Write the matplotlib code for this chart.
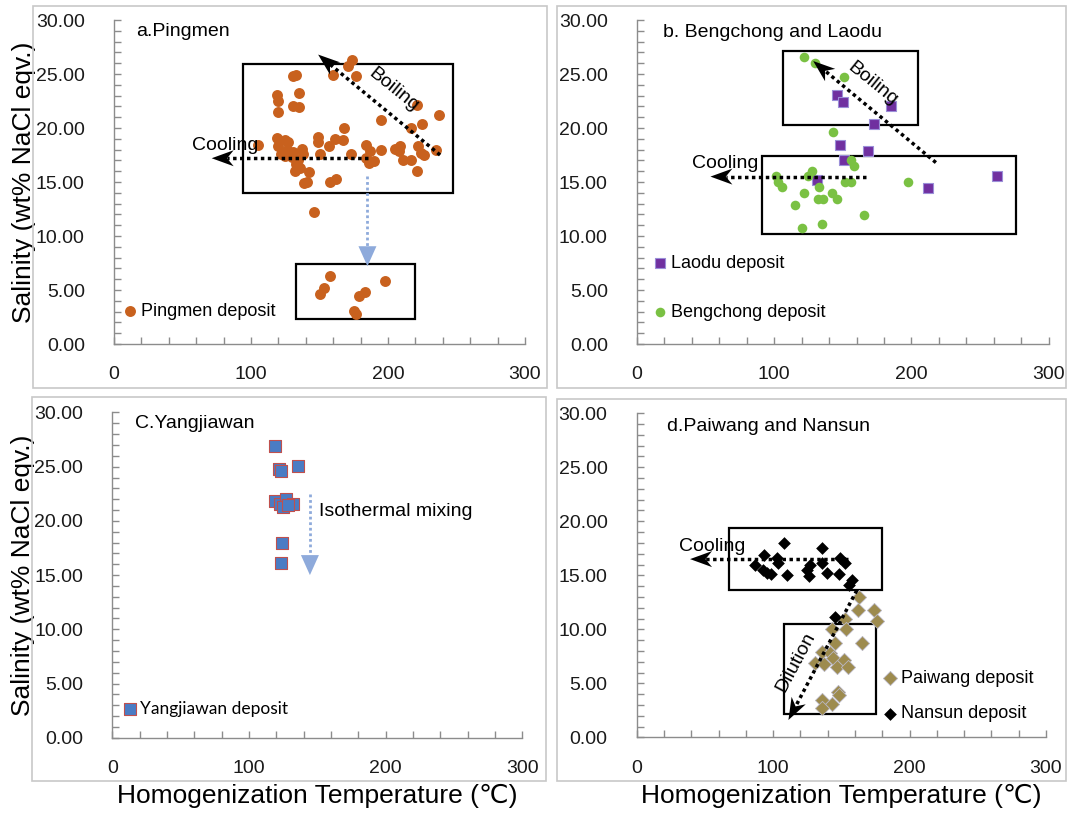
"""Fluid inclusion salinity vs homogenization temperature, four deposits."""

import numpy as np
import matplotlib

matplotlib.use("Agg")
import matplotlib.pyplot as plt
from matplotlib.patches import Rectangle, Polygon

plt.rcParams["font.family"] = ["Liberation Sans", "DejaVu Sans"]

# ---- data (Th in degC, salinity in wt% NaCl eqv.) ----
pingmen_t = [174, 171, 177, 160, 131, 133, 119, 120, 135, 131, 135, 120,
             221, 237, 195, 225, 217, 168, 105, 119, 125, 127, 149, 149,
             157, 161, 167, 120, 126, 131, 137.5, 122, 138, 134.5, 130, 125,
             150, 173, 184, 187, 184, 190, 186, 195, 205, 209, 208, 222,
             224, 226, 235, 211, 217, 221, 133, 136, 132, 142, 139, 141,
             158, 162, 146, 158, 153, 150, 198, 183, 179, 175, 177]
pingmen_s = [26.3, 25.7, 24.8, 24.9, 24.8, 24.9, 23.1, 22.5, 23.2, 22.0, 21.9, 21.5,
             22.1, 21.2, 20.7, 20.4, 20.0, 20.0, 18.4, 19.1, 18.9, 18.7, 19.2, 18.7,
             18.3, 19.0, 18.9, 18.3, 18.0, 17.8, 18.1, 17.6, 17.6, 17.0, 17.3, 17.4,
             17.6, 17.6, 18.4, 17.9, 17.2, 16.9, 16.8, 18.0, 18.1, 18.3, 17.9, 18.3,
             17.7, 17.5, 18.0, 17.0, 17.0, 16.0, 16.7, 16.3, 16.0, 15.9, 14.9, 15.0,
             15.0, 15.3, 12.2, 6.3, 5.2, 4.6, 5.8, 4.8, 4.4, 3.1, 2.8]

bengchong_t = [121.8, 129.8, 150.7, 143, 155.6, 158, 101.6, 102.8, 105.3, 127.6,
               124.7, 132.7, 121.8, 115, 132, 135.7, 142, 145.9, 151.5, 155.8,
               197.7, 165.6, 135, 119.9]
bengchong_s = [26.6, 26.0, 24.7, 19.6, 17.0, 16.5, 15.6, 15.0, 14.5, 16.0,
               15.6, 14.5, 14.0, 12.9, 13.4, 13.4, 14.0, 13.4, 15.0, 15.0,
               15.0, 11.9, 11.1, 10.7]

laodu_t = [145.4, 149.8, 185, 172.9, 147.8, 168, 151, 131.5, 211.8, 262]
laodu_s = [23.1, 22.4, 22.0, 20.4, 18.4, 17.9, 17.0, 15.2, 14.4, 15.6]

yangjiawan_t = [119, 122.0, 123.3, 136.1, 119, 122.7, 127.1, 125.1, 132, 128.8, 123.9, 123.2]
yangjiawan_s = [26.9, 24.8, 24.6, 25.1, 21.8, 21.6, 22.0, 21.3, 21.6, 21.5, 18.0, 16.1]

nansun_t = [108, 135.6, 93.3, 102.6, 103.3, 86.7, 92.8, 95.3, 98.5, 110.4, 127,
            124.6, 126.3, 135.6, 139.3, 149, 152.7, 148, 158, 155.9, 145.4]
nansun_s = [18.0, 17.5, 16.9, 16.6, 16.1, 16.0, 15.5, 15.2, 15.1, 15.0, 16.0,
            15.5, 14.9, 16.1, 15.2, 16.6, 16.1, 15.1, 14.6, 14.1, 11.1]

paiwang_t = [163.2, 162, 174.2, 175.9, 152.7, 142.9, 153.2, 145.4, 165.4, 135.6, 141.7,
             130.7, 137.6, 144.1, 152.2, 146.6, 155.1, 147.8, 148.5, 135.6, 142.9, 135.6]
paiwang_s = [13.0, 11.8, 11.8, 10.8, 11.0, 10.0, 10.0, 8.7, 8.7, 7.9, 7.8,
             6.9, 6.8, 7.3, 7.2, 6.5, 6.5, 4.2, 3.9, 3.5, 3.1, 2.7]

# field boxes (t0, s0, t1, s1)
boxes_a = [(94.4, 13.95, 247.2, 25.9), (132.8, 2.3, 220, 7.4)]
boxes_b = [(106.5, 20.3, 205, 27.1), (90.9, 10.15, 276.2, 17.4)]
boxes_d = [(67.9, 13.6, 180, 19.4), (107.7, 2.2, 175.2, 10.5)]

# trend arrows (start, tip)
cool_a = ((185.6, 17.2), (71.3, 17.2))
boil_a = ((238, 17.5), (149, 26.8))
mix_a = ((185, 15.6), (185, 7.2))
cool_b = ((166.8, 15.5), (53.5, 15.5))
boil_b = ((217.8, 16.8), (128.4, 26.2))
mix_c = ((144.6, 22.5), (144.6, 15.0))
cool_d = ((155.1, 16.5), (39.1, 16.5))
dilu_d = ((161.3, 13.6), (111.2, 1.6))

W, H = 1068, 813
GRAY = "#8c8c8c"
BLUE_ARROW = "#8eaadb"


def _px_axes(fig, x0, y0, x1, y1):
    return fig.add_axes([x0 / W, 1 - y1 / H, (x1 - x0) / W, (y1 - y0) / H])


def _frame(fig, x0, y0, x1, y1):
    fig.add_artist(Rectangle((x0 / W, 1 - y1 / H), (x1 - x0) / W, (y1 - y0) / H,
                             transform=fig.transFigure, fill=False,
                             edgecolor="#c8c8c8", lw=1.2))


def _style(ax):
    ax.set_xlim(0, 300)
    ax.set_ylim(0, 30)
    for s in ("top", "right"):
        ax.spines[s].set_visible(False)
    for s in ("left", "bottom"):
        ax.spines[s].set_color(GRAY)
        ax.spines[s].set_linewidth(1.0)
    ax.set_xticks([0, 100, 200, 300])
    ax.set_xticks(np.arange(0, 301, 20), minor=True)
    ax.set_yticks(np.arange(0, 31, 5))
    ax.set_yticks(np.arange(0, 31, 1), minor=True)
    ax.yaxis.set_major_formatter(matplotlib.ticker.FormatStrFormatter("%.2f"))
    ax.tick_params(which="both", direction="in", length=5, width=1, color=GRAY,
                   labelsize=14, labelcolor="#1a1a1a")
    ax.tick_params(axis="x", pad=16)
    ax.tick_params(axis="y", pad=21)
    ax.patch.set_alpha(0)


def _boxes(ax, boxes):
    for t0, s0, t1, s1 in boxes:
        ax.add_patch(Rectangle((t0, s0), t1 - t0, s1 - s0, fill=False,
                               edgecolor="black", lw=1.6, zorder=1))


def _arrow(ax, seg, color="black", length=22, width=16, notch=0.3, lw=2.5):
    """Dotted shaft with a solid (stealth-like) head, sized in pixels."""
    p0 = ax.transData.transform(seg[0])
    p1 = ax.transData.transform(seg[1])
    d = (p1 - p0) / np.hypot(*(p1 - p0))
    n = np.array([-d[1], d[0]])
    back = p1 - d * length
    inner = p1 - d * length * (1 - notch)
    verts = np.array([p1, back + n * width / 2, inner, back - n * width / 2])
    inv = ax.transData.inverted()
    end = inv.transform(inner)
    ax.plot([seg[0][0], end[0]], [seg[0][1], end[1]], color=color, lw=lw,
            linestyle=(0, (1, 1)), zorder=4)
    ax.add_patch(Polygon(inv.transform(verts), closed=True, facecolor=color,
                         edgecolor="none", zorder=4))


def _legend(ax, x, y, **kw):
    opts = dict(loc="center left", bbox_to_anchor=(x, y), bbox_transform=ax.transData,
                frameon=False, borderpad=0, borderaxespad=0, handlelength=0.6,
                handletextpad=0.3, scatterpoints=1, fontsize=13)
    opts.update(kw)
    return ax.legend(**opts)


def main() -> None:
    fig = plt.figure(figsize=(W / 100, H / 100), dpi=100)

    _frame(fig, 33, 6, 547, 388)
    _frame(fig, 557, 6, 1066, 388)
    _frame(fig, 32, 397, 546, 781)
    _frame(fig, 557, 399, 1066, 781)

    ax_a = _px_axes(fig, 114, 20, 525, 344)
    ax_b = _px_axes(fig, 637, 20, 1048.7, 344)
    ax_c = _px_axes(fig, 112.3, 412.5, 522.3, 737.7)
    ax_d = _px_axes(fig, 636.7, 413.3, 1046, 737.3)
    for ax in (ax_a, ax_b, ax_c, ax_d):
        _style(ax)

    # a. Pingmen
    ax = ax_a
    _boxes(ax, boxes_a)
    ax.scatter(pingmen_t, pingmen_s, s=62, color="#c8611e", lw=0, zorder=3,
               label="Pingmen deposit")
    _arrow(ax, cool_a)
    _arrow(ax, boil_a)
    _arrow(ax, mix_a, color=BLUE_ARROW, length=20, width=18, notch=0, lw=2)
    ax.text(16.5, 28.9, "a.Pingmen", fontsize=14, va="center")
    ax.text(56.7, 18.4, "Cooling", fontsize=14, va="center", zorder=5)
    ax.text(204, 23.5, "Boiling", fontsize=14, rotation=-39, ha="center",
            va="center", rotation_mode="anchor", zorder=5)
    _legend(ax, 7.8, 3.0)

    # b. Bengchong and Laodu
    ax = ax_b
    _boxes(ax, boxes_b)
    hl = ax.scatter(laodu_t, laodu_s, s=48, marker="s", color="#7030a0",
                    edgecolor="#9b8fd8", lw=0.8, zorder=3, label="Laodu deposit")
    hb = ax.scatter(bengchong_t, bengchong_s, s=48, color="#7ac143", lw=0,
                    zorder=3, label="Bengchong deposit")
    _arrow(ax, cool_b)
    _arrow(ax, boil_b)
    ax.text(19, 28.8, "b. Bengchong and Laodu", fontsize=14, va="center")
    ax.text(40.1, 16.7, "Cooling", fontsize=14, va="center", zorder=5)
    ax.text(172, 24.1, "Boiling", fontsize=14, rotation=-39, ha="center",
            va="center", rotation_mode="anchor", zorder=5)
    _legend(ax, 12.6, 5.2, handles=[hl, hb], labelspacing=1.75)

    # c. Yangjiawan
    ax = ax_c
    ax.scatter(yangjiawan_t, yangjiawan_s, s=75, marker="s", color="#4a7cc4",
               edgecolor="#c0504d", lw=0.8, zorder=3, label="Yangjiawan deposit")
    _arrow(ax, mix_c, color=BLUE_ARROW, length=20, width=18, notch=0, lw=2)
    ax.text(16.6, 29.0, "C.Yangjiawan", fontsize=14, va="center")
    ax.text(151.4, 20.85, "Isothermal mixing", fontsize=14, va="center")
    _legend(ax, 8.9, 2.65, prop={"family": ["Lato", "DejaVu Sans"], "size": 12.5})

    # d. Paiwang and Nansun
    ax = ax_d
    _boxes(ax, boxes_d)
    hp = ax.scatter(paiwang_t, paiwang_s, s=52, marker="D", color="#9d8b4e",
                    edgecolor="#b9b7c2", lw=0.6, zorder=3, label="Paiwang deposit")
    hn = ax.scatter(nansun_t, nansun_s, s=42, marker="D", color="black", lw=0,
                    zorder=3, label="Nansun deposit")
    _arrow(ax, cool_d)
    _arrow(ax, dilu_d)
    ax.text(22, 28.8, "d.Paiwang and Nansun", fontsize=14, va="center")
    ax.text(31.3, 17.7, "Cooling", fontsize=14, va="center", zorder=5)
    ax.text(116.5, 7.0, "Dilution", fontsize=14, rotation=62, ha="center",
            va="center", rotation_mode="anchor", zorder=5)
    _legend(ax, 181.8, 3.8, handles=[hp, hn], labelspacing=1.0)

    # axis titles
    for ax in (ax_a, ax_c):
        ax.set_ylabel("Salinity (wt% NaCl eqv.)", fontsize=19, va="center")
        ax.yaxis.set_label_coords((23 - 113) / 411, 0.5)
    for ax in (ax_c, ax_d):
        ax.set_xlabel("Homogenization Temperature (\u2103)", fontsize=19, va="center")
        ax.xaxis.set_label_coords(0.5, -(796 - 737.5) / 325)

    fig.savefig("out.png", dpi=100)
    plt.close(fig)


if __name__ == "__main__":
    main()
